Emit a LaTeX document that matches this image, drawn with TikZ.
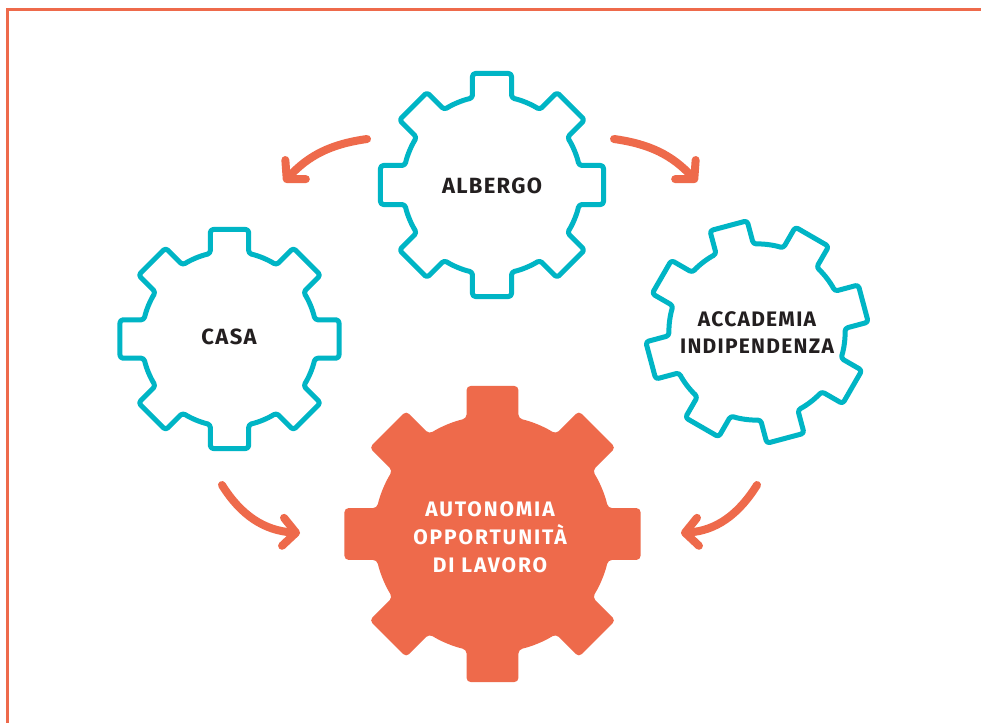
\documentclass[tikz,border=0pt]{standalone}
\usepackage{fontspec}
\setmainfont{Fira Sans}
\newfontfamily\labfont[LetterSpace=6]{Fira Sans}
\newfontfamily\wlabfont[LetterSpace=9]{Fira Sans}
\usetikzlibrary{arrows.meta}
\definecolor{gorange}{RGB}{238,106,75}
\definecolor{gcyan}{RGB}{0,181,197}
\definecolor{gtext}{RGB}{35,31,32}
\newcommand{\mygear}[5]{%
  \pgfmathsetmacro\gearr{0.8*#4}%
  \pgfmathsetmacro\geara{asin(0.175/0.8)}%
  \pgfmathsetmacro\gearb{atan(0.175)}%
  \pgfmathsetmacro\geart{1.01531*#4}%
  \begin{scope}[shift={(#2,#3)},rotate=#5]
    \path[#1] (-\gearb:\geart)
      \foreach \k in {0,...,6}{ -- (45*\k+\gearb:\geart) -- (45*\k+\geara:\gearr)
        arc[start angle=45*\k+\geara, end angle=45*\k+45-\geara, radius=\gearr]
        -- (45*\k+45-\gearb:\geart) }
      -- (315+\gearb:\geart) -- (315+\geara:\gearr)
      arc[start angle=315+\geara, end angle=360-\geara, radius=\gearr] -- cycle;
  \end{scope}}
\tikzset{
  cgear/.style={draw=gcyan, line width=5pt, fill=white, rounded corners=3pt, line join=round},
  ogear/.style={fill=gorange, rounded corners=4pt},
  lab/.style={font=\labfont\bfseries\fontsize{22}{27}\selectfont, text=gtext, align=center, inner sep=0pt},
  slab/.style={lab, font=\labfont\bfseries\fontsize{21}{27}\selectfont},
  wlab/.style={lab, font=\wlabfont\bfseries\fontsize{21}{28}\selectfont, text=white},
  arr/.style={draw=gorange, line width=8pt, line cap=round,
    -{Straight Barb[length=13pt,width=28pt,line width=8pt,line join=round,line cap=round]}},
  frame/.style={draw=gorange, line width=3pt}
}
\begin{document}
\begin{tikzpicture}[x=1pt,y=1pt]
\clip (0,0) rectangle (981,-722);
\fill[white] (0,0) rectangle (981,-722);
\draw[frame] (7.5,-760) -- (7.5,-10) -- (1000,-10);
\mygear{cgear}{492}{-185}{111.5}{0}
\mygear{cgear}{229.5}{-339}{109.5}{0}
\mygear{cgear}{757}{-332}{110}{15}
\mygear{ogear}{492.5}{-534}{148}{0}
\node[lab] (albergo) at (492,-186) {ALBERGO};
\node[lab] (casa) at (229,-337) {CASA};
\node[slab] (acc) at (757,-333) {ACCADEMIA\\INDIPENDENZA};
\node[wlab] (auto) at (490,-537) {AUTONOMIA\\OPPORTUNITÀ\\DI LAVORO};
\coordinate (a1s) at (367,-139); \coordinate (a1e) at (284,-182);
\coordinate (a2s) at (614,-139); \coordinate (a2e) at (697,-182);
\coordinate (a3s) at (222,-485); \coordinate (a3e) at (300,-533);
\coordinate (a4s) at (757,-485); \coordinate (a4e) at (681,-533);
\draw[arr] (a1s) to[out=188,in=47] (a1e);
\draw[arr] (a2s) to[out=-8,in=133] (a2e);
\draw[arr] (a3s) to[out=-58,in=176] (a3e);
\draw[arr] (a4s) to[out=238,in=4] (a4e);
\end{tikzpicture}
\end{document}
